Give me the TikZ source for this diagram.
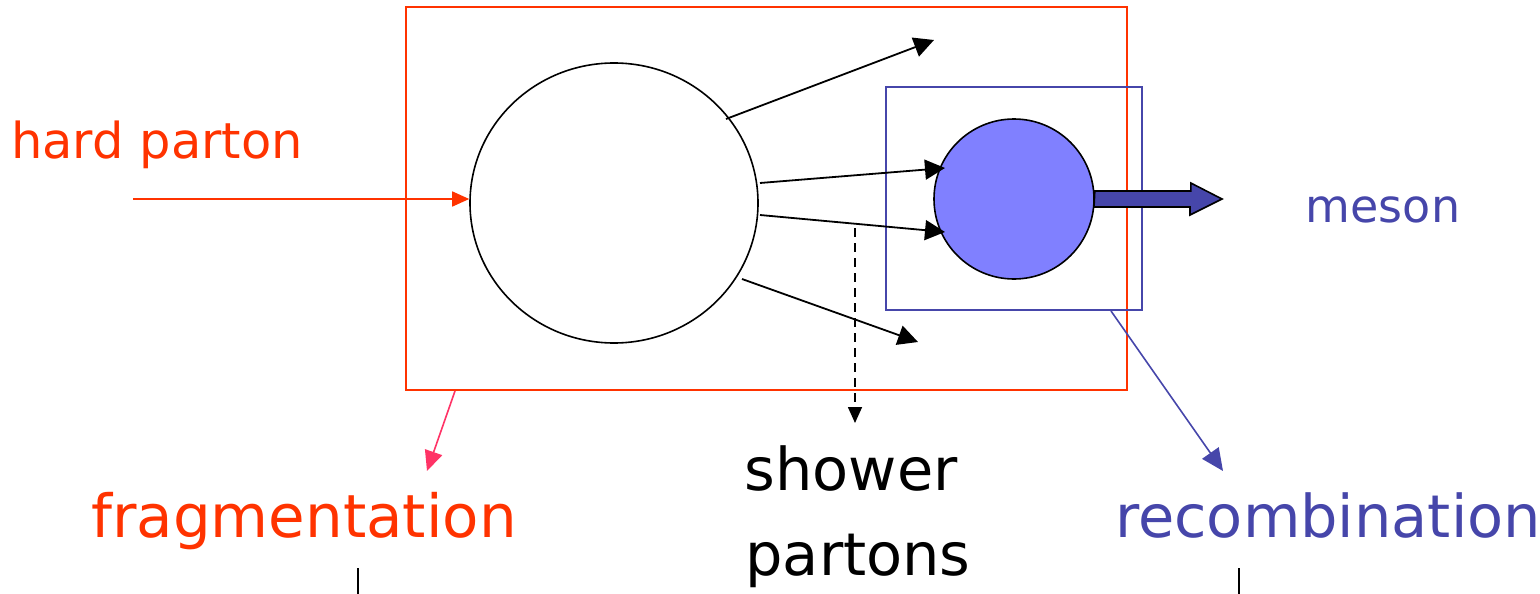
\documentclass[tikz,border=0pt]{standalone}
\usepackage{fontspec}
\setmainfont{DejaVu Sans}
\usetikzlibrary{arrows.meta,shapes.geometric}
\definecolor{pred}{HTML}{FF3300}
\definecolor{ppink}{HTML}{FF3366}
\definecolor{pblue}{HTML}{4646AA}
\definecolor{pfill}{HTML}{8080FF}
\tikzset{
  parrow/.style={line width=1.8pt, -{Triangle[length=20pt,width=20pt]}},
  lbl/.style={inner sep=0pt, anchor=base},
}
\begin{document}
\begin{tikzpicture}[x=1pt,y=-1pt]
\useasboundingbox (0,0) rectangle (1540,594);
% frames
\node[draw=pred, line width=1.6pt, minimum width=721pt, minimum height=383pt, inner sep=0pt] (frag) at (766.5,198.5) {};
\node[draw=pblue, line width=1.6pt, minimum width=256pt, minimum height=223pt, inner sep=0pt] (reco) at (1014,198.5) {};
% blobs
\node[draw, ellipse, line width=1.6pt, minimum width=288pt, minimum height=280pt, inner sep=0pt, fill=white] (jet) at (614,203) {};
\node[draw, circle, line width=1.6pt, minimum size=160pt, inner sep=0pt, fill=pfill] (had) at (1014,199) {};
% block arrow
\coordinate (bt) at (1222,199);
\draw[fill=pblue, line width=1.6pt, line join=miter]
  (had.east) ++(0,-8) -- ++(96,0) -- ++(0,-8) -- (bt) -- ++(-32,16) -- ++(0,-8) -- ++(-96,0) -- cycle;
% coordinates
\coordinate (hin) at (133,199);
\coordinate (s1) at (726,119);
\coordinate (s2) at (760,183);
\coordinate (s3) at (760,215);
\coordinate (s4) at (742,279);
\coordinate (t1) at (934,40);
\coordinate (t4) at (918,342);
\coordinate (h1) at (945,168);
\coordinate (h2) at (945,232);
\coordinate (dtop) at (855,228);
\coordinate (dbot) at (855,423);
\coordinate (fs) at (455,391);
\coordinate (fe) at (427,471);
\coordinate (rs) at (1111,311);
\coordinate (re) at (1223,471);
% incoming hard parton
\draw[pred, line width=1.6pt, -{Triangle[length=17pt,width=15pt]}] (hin) -- (hin -| jet.west);
% shower partons
\draw[parrow] (s1) -- (t1);
\draw[parrow] (s2) -- (h1);
\draw[parrow] (s3) -- (h2);
\draw[parrow] (s4) -- (t4);
\draw[line width=1.6pt, dashed, dash pattern=on 9pt off 6pt, -{Triangle[length=16pt,width=14pt]}] (dtop) -- (dbot);
% label pointers
\draw[ppink, line width=1.6pt, -{Triangle[length=20pt,width=18pt]}] (fs) -- (fe);
\draw[pblue, line width=1.6pt, -{Triangle[length=22pt,width=20pt]}] (rs) -- (re);
% texts
\node[lbl, text=pred, font=\fontsize{49.5}{58}\selectfont] (thp) at (157,158) {hard parton};
\node[lbl, text=pblue, font=\fontsize{46}{54}\selectfont] (tme) at (1383,222) {meson};
\node[lbl, text=pred, font=\fontsize{59.5}{70}\selectfont] (tfr) at (304,537) {fragmentation};
\node[lbl, text=black, font=\fontsize{59}{70}\selectfont] (tsh) at (851,490) {shower};
\node[lbl, text=black, font=\fontsize{59}{70}\selectfont] (tpa) at (858,575) {partons};
\node[lbl, anchor=base west, text=pblue, font=\fontsize{59}{70}\selectfont] (tre) at (1115,537) {recombination};
% ticks
\coordinate (k1a) at (358,568); \coordinate (k1b) at (358,594);
\coordinate (k2a) at (1239,568); \coordinate (k2b) at (1239,594);
\draw[line width=1.6pt] (k1a) -- (k1b);
\draw[line width=1.6pt] (k2a) -- (k2b);
\end{tikzpicture}
\end{document}
